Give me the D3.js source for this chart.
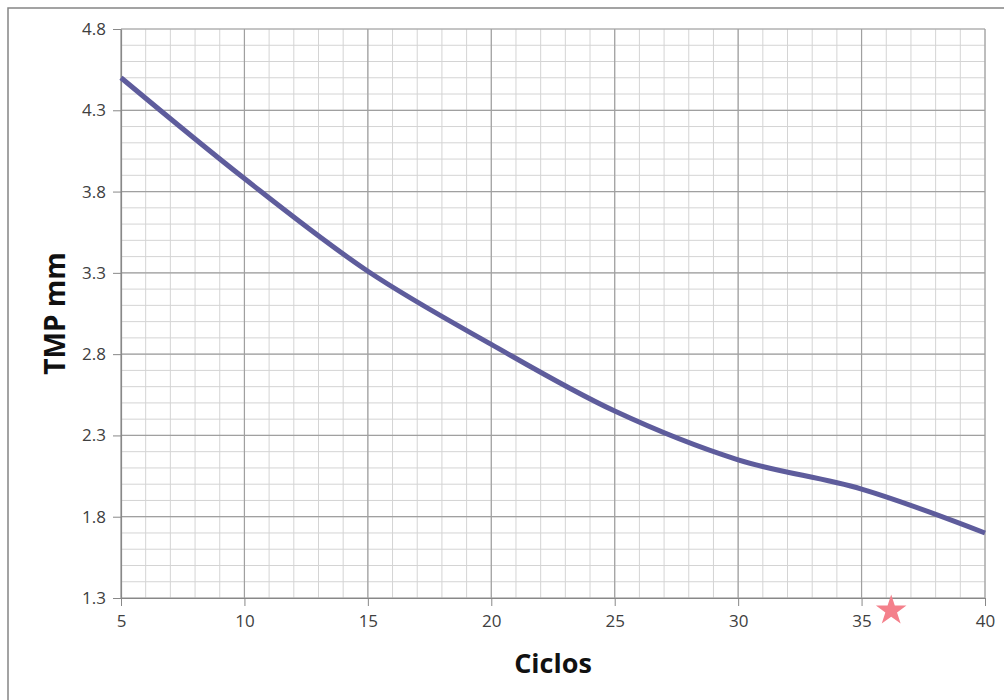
<!DOCTYPE html>
<html>
<head>
<meta charset="utf-8">
<script src="https://cdn.jsdelivr.net/npm/d3@7"></script>
<style>
  html, body { margin: 0; padding: 0; background: #fff; }
  svg { display: block; }
  .tick text { font-family: 'Open Sans', 'Noto Sans', sans-serif; font-size: 17px; fill: #404040; }
</style>
</head>
<body>
<div id="chart"></div>
<script>
const cycles = [5, 10, 15, 20, 25, 30, 35, 40];
const tmp = [4.50, 3.88, 3.31, 2.86, 2.45, 2.15, 1.97, 1.70];
const starPoint = [36.2, 1.223];
const xTicks = [5, 10, 15, 20, 25, 30, 35, 40];
const yTicks = [1.3, 1.8, 2.3, 2.8, 3.3, 3.8, 4.3, 4.8];
const xTitle = "Ciclos";
const yTitle = "TMP mm";

const W = 1004, H = 700;
const m = { left: 121, top: 29, right: 1004 - 985, bottom: 700 - 598 };
const iw = W - m.left - m.right, ih = H - m.top - m.bottom;

const svg = d3.select("#chart").append("svg").attr("width", W).attr("height", H);

// outer frame
svg.append("rect").attr("x", 8).attr("y", 8).attr("width", W + 10).attr("height", H + 10)
  .attr("fill", "none").attr("stroke", "#858585").attr("stroke-width", 1.5);

const x = d3.scaleLinear().domain([5, 40]).range([0, iw]);
const y = d3.scaleLinear().domain([1.3, 4.8]).range([ih, 0]);

const g = svg.append("g").attr("transform", `translate(${m.left},${m.top})`);

// minor grid
const xMinor = d3.range(5, 40.001, 1);
const yMinor = d3.range(0, 36).map(i => +(1.3 + i * 0.1).toFixed(2));
g.append("g").selectAll("line").data(xMinor).join("line")
  .attr("x1", d => x(d)).attr("x2", d => x(d)).attr("y1", 0).attr("y2", ih)
  .attr("stroke", "#d4d4d4").attr("stroke-width", 1);
g.append("g").selectAll("line").data(yMinor).join("line")
  .attr("y1", d => y(d)).attr("y2", d => y(d)).attr("x1", 0).attr("x2", iw)
  .attr("stroke", "#d4d4d4").attr("stroke-width", 1);
// major grid
g.append("g").selectAll("line").data(xTicks).join("line")
  .attr("x1", d => x(d)).attr("x2", d => x(d)).attr("y1", 0).attr("y2", ih)
  .attr("stroke", "#a0a0a0").attr("stroke-width", 1.2);
g.append("g").selectAll("line").data(yTicks).join("line")
  .attr("y1", d => y(d)).attr("y2", d => y(d)).attr("x1", 0).attr("x2", iw)
  .attr("stroke", "#a0a0a0").attr("stroke-width", 1.2);

// axes
const xAxis = g.append("g").attr("transform", `translate(0,${ih})`)
  .call(d3.axisBottom(x).tickValues(xTicks).tickSize(8).tickSizeOuter(0).tickPadding(9).tickFormat(d3.format("d")));
const yAxis = g.append("g")
  .call(d3.axisLeft(y).tickValues(yTicks).tickSize(8).tickSizeOuter(0).tickPadding(7).tickFormat(d3.format(".1f")));
[xAxis, yAxis].forEach(a => {
  a.attr("font-size", 17).attr("font-family", "'Open Sans', 'Noto Sans', sans-serif");
  a.select(".domain").attr("stroke", "#888").attr("stroke-width", 1.2);
  a.selectAll(".tick line").attr("stroke", "#888");
  a.selectAll(".tick text").attr("fill", "#404040").attr("font-size", 17);
});

// line
const line = d3.line().x((d, i) => x(cycles[i])).y(d => y(d)).curve(d3.curveCatmullRom.alpha(0.5));
g.append("path").datum(tmp).attr("d", line)
  .attr("fill", "none").attr("stroke", "#5e5c9c").attr("stroke-width", 5).attr("stroke-linecap", "butt");

// star marker
g.append("path")
  .attr("d", d3.symbol().type(d3.symbolStar).size(290)())
  .attr("transform", `translate(${x(starPoint[0])},${y(starPoint[1])})`)
  .attr("fill", "#f4808b");

// titles
svg.append("text").attr("x", m.left + iw / 2).attr("y", 673).attr("text-anchor", "middle")
  .style("font-family", "'Open Sans', 'Noto Sans', sans-serif").style("font-weight", "bold").style("font-size", "27px")
  .attr("fill", "#111").text(xTitle);
svg.append("text").attr("transform", `translate(65,${m.top + ih / 2}) rotate(-90)`).attr("text-anchor", "middle")
  .style("font-family", "'Open Sans', 'Noto Sans', sans-serif").style("font-weight", "bold").style("font-size", "28px")
  .attr("fill", "#111").text(yTitle);
</script>
</body>
</html>
